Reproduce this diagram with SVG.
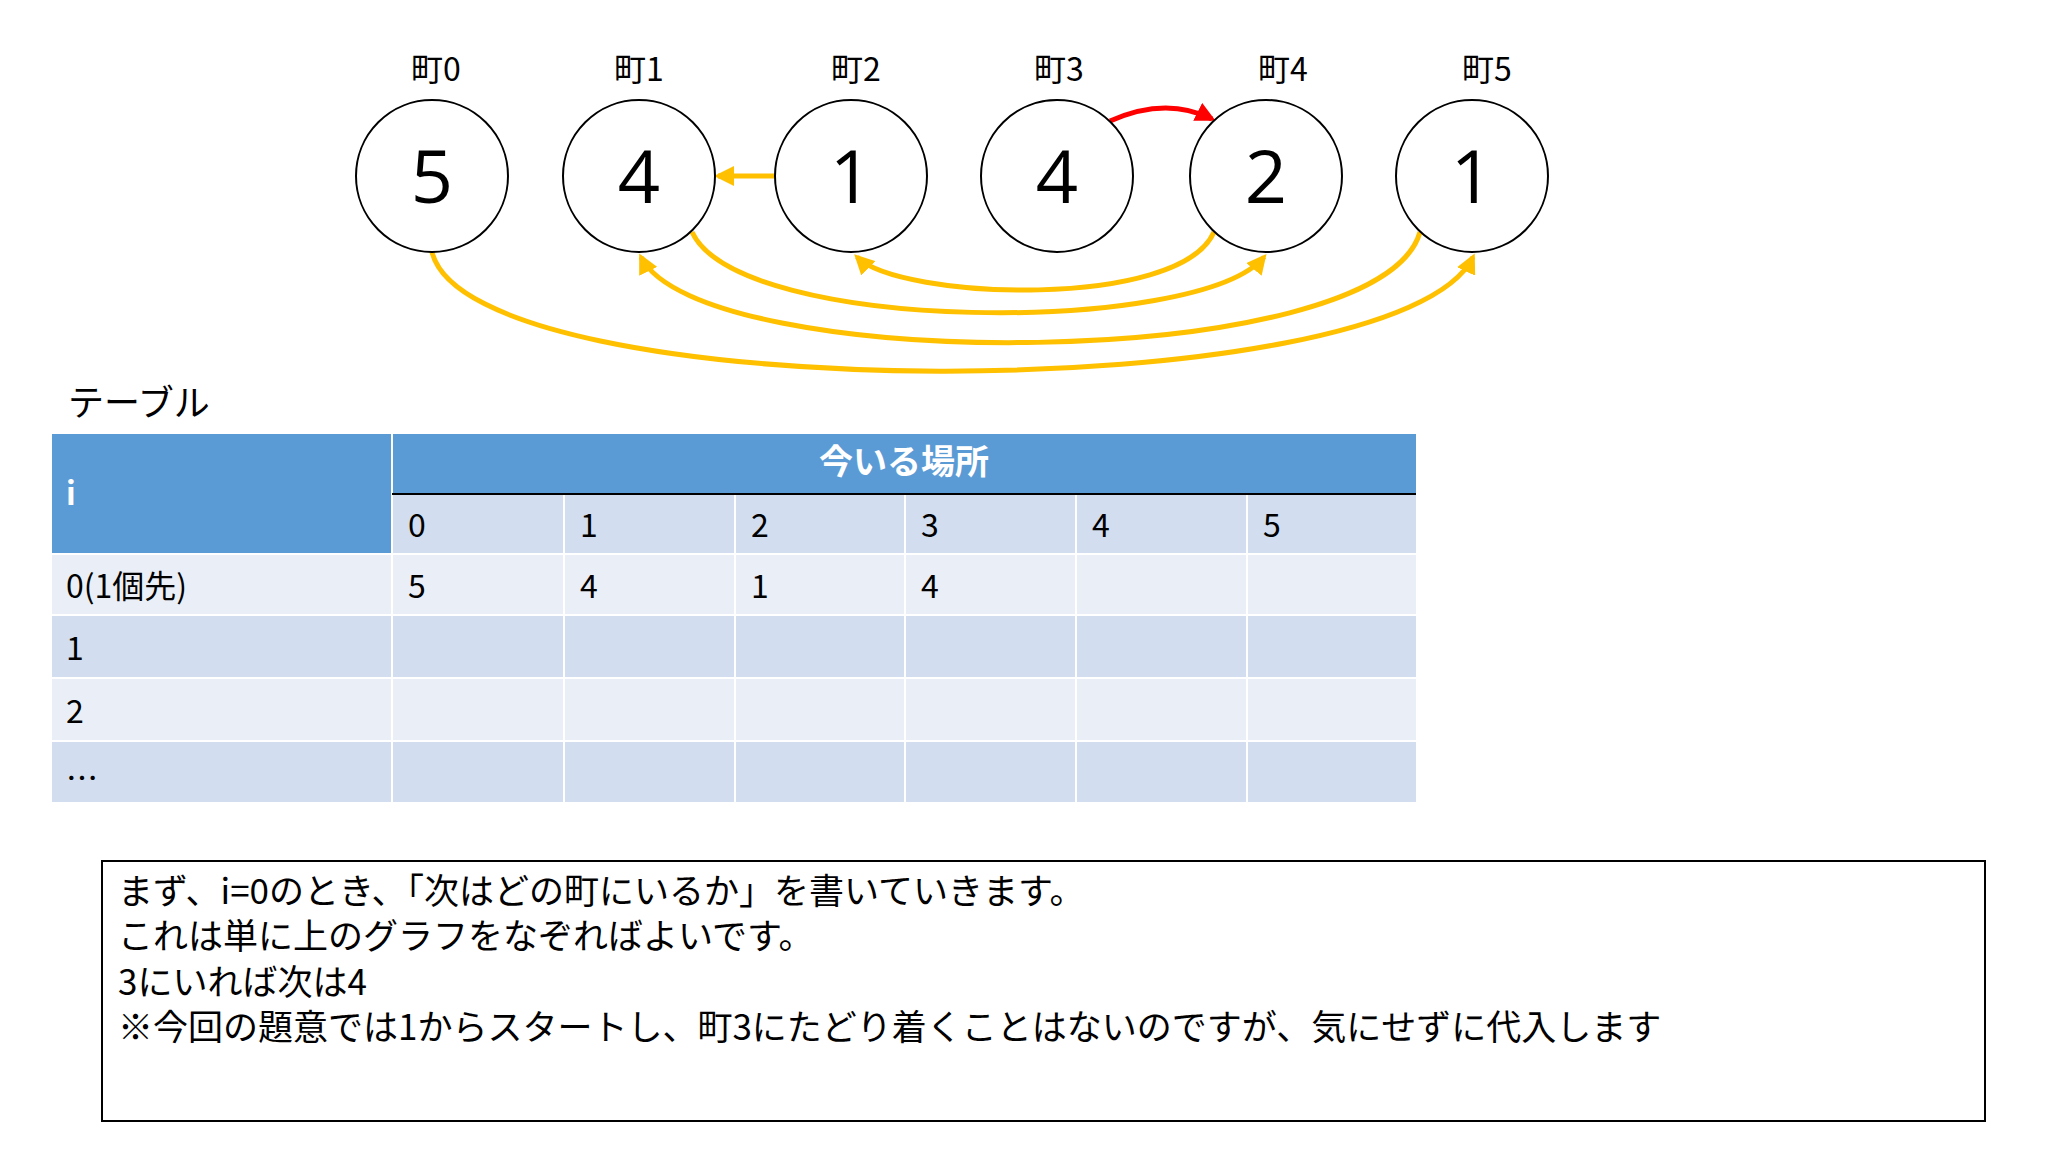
<svg xmlns="http://www.w3.org/2000/svg" width="2048" height="1152" viewBox="0 0 2048 1152">
<defs>
<style>
text{font-family:"Noto Sans CJK JP","Liberation Sans",sans-serif;fill:#000}
.c{fill:#fff;stroke:#000;stroke-width:2}
.n{font-size:74px;text-anchor:middle;font-family:"Open Sans","Noto Sans CJK JP",sans-serif}
.l{font-size:32px;text-anchor:middle}
.y{fill:none;stroke:#FFC000;stroke-width:5;marker-end:url(#ay)}
.t{font-size:32px}
.m{font-size:35px}
.h{fill:#5B9BD5}
.a{fill:#D2DEEF}
.b{fill:#EAEFF7}
.g{stroke:#fff;stroke-width:2}
</style>
<marker id="ay" viewBox="0 0 10 10" refX="8" refY="5" markerWidth="4" markerHeight="4" orient="auto"><path d="M0,0L10,5L0,10z" fill="#FFC000"/></marker>
<marker id="ar" viewBox="0 0 10 10" refX="8" refY="5" markerWidth="4" markerHeight="4" orient="auto"><path d="M0,0L10,5L0,10z" fill="#FF0000"/></marker>
</defs>
<g id="connectors">
<path class="y" d="M774,176 L718,176"/>
<path d="M1110,121 Q1166,96 1212,119" fill="none" stroke="#FF0000" stroke-width="5" marker-end="url(#ar)"/>
<path class="y" d="M1214,232 C1180,310 900,300 857,257"/>
<path class="y" d="M692,232 C740,335 1200,335 1264,257"/>
<path class="y" d="M1420,232 C1380,375 700,375 641,257"/>
<path class="y" d="M432,252 C470,410 1400,410 1473,257"/>
</g>
<g id="n0"><circle class="c" cx="432" cy="176" r="76"/><text class="n" x="432" y="203">5</text><text class="l" x="436" y="81">町0</text></g>
<g id="n1"><circle class="c" cx="639" cy="176" r="76"/><text class="n" x="639" y="203">4</text><text class="l" x="639" y="81">町1</text></g>
<g id="n2"><circle class="c" cx="851" cy="176" r="76"/><text class="n" x="851" y="203">1</text><text class="l" x="856" y="81">町2</text></g>
<g id="n3"><circle class="c" cx="1057" cy="176" r="76"/><text class="n" x="1057" y="203">4</text><text class="l" x="1059" y="81">町3</text></g>
<g id="n4"><circle class="c" cx="1266" cy="176" r="76"/><text class="n" x="1266" y="203">2</text><text class="l" x="1283" y="81">町4</text></g>
<g id="n5"><circle class="c" cx="1472" cy="176" r="76"/><text class="n" x="1472" y="203">1</text><text class="l" x="1487" y="81">町5</text></g>
<text x="68" y="416" style="font-size:36px">テーブル</text>
<g id="table">
<rect class="h" x="52" y="434" width="340" height="120"/>
<rect class="h" x="392" y="434" width="1024" height="60"/>
<rect class="a" x="392" y="494" width="1024" height="60"/>
<rect class="b" x="52" y="554" width="1364" height="61"/>
<rect class="a" x="52" y="615" width="1364" height="63"/>
<rect class="b" x="52" y="678" width="1364" height="63"/>
<rect class="a" x="52" y="741" width="1364" height="61"/>
<path class="g" d="M392,434V802M564,494V802M735,494V802M905,494V802M1076,494V802M1247,494V802M52,554H1416M52,615H1416M52,678H1416M52,741H1416"/>
<path d="M392,494H1416" stroke="#000" stroke-width="2"/>
<text class="t" x="66" y="505" style="fill:#fff;font-weight:bold">i</text>
<text class="t" x="904" y="474" style="fill:#fff;font-weight:bold;text-anchor:middle;font-size:34px">今いる場所</text>
<text class="t" x="408" y="537">0</text><text class="t" x="580" y="537">1</text><text class="t" x="751" y="537">2</text><text class="t" x="921" y="537">3</text><text class="t" x="1092" y="537">4</text><text class="t" x="1263" y="537">5</text>
<text class="t" x="66" y="598">0(1個先)</text>
<text class="t" x="408" y="598">5</text><text class="t" x="580" y="598">4</text><text class="t" x="751" y="598">1</text><text class="t" x="921" y="598">4</text>
<text class="t" x="66" y="660">1</text>
<text class="t" x="66" y="723">2</text>
<text class="t" x="66" y="790">…</text>
</g>
<g id="note">
<rect x="102" y="861" width="1883" height="260" fill="#fff" stroke="#000" stroke-width="2"/>
<text class="m" x="118" y="904">まず、i=0のとき、「次はどの町にいるか」を書いていきます。</text>
<text class="m" x="118" y="949">これは単に上のグラフをなぞればよいです。</text>
<text class="m" x="118" y="995">3にいれば次は4</text>
<text class="m" x="118" y="1040">※今回の題意では1からスタートし、町3にたどり着くことはないのですが、気にせずに代入します</text>
</g>
</svg>
